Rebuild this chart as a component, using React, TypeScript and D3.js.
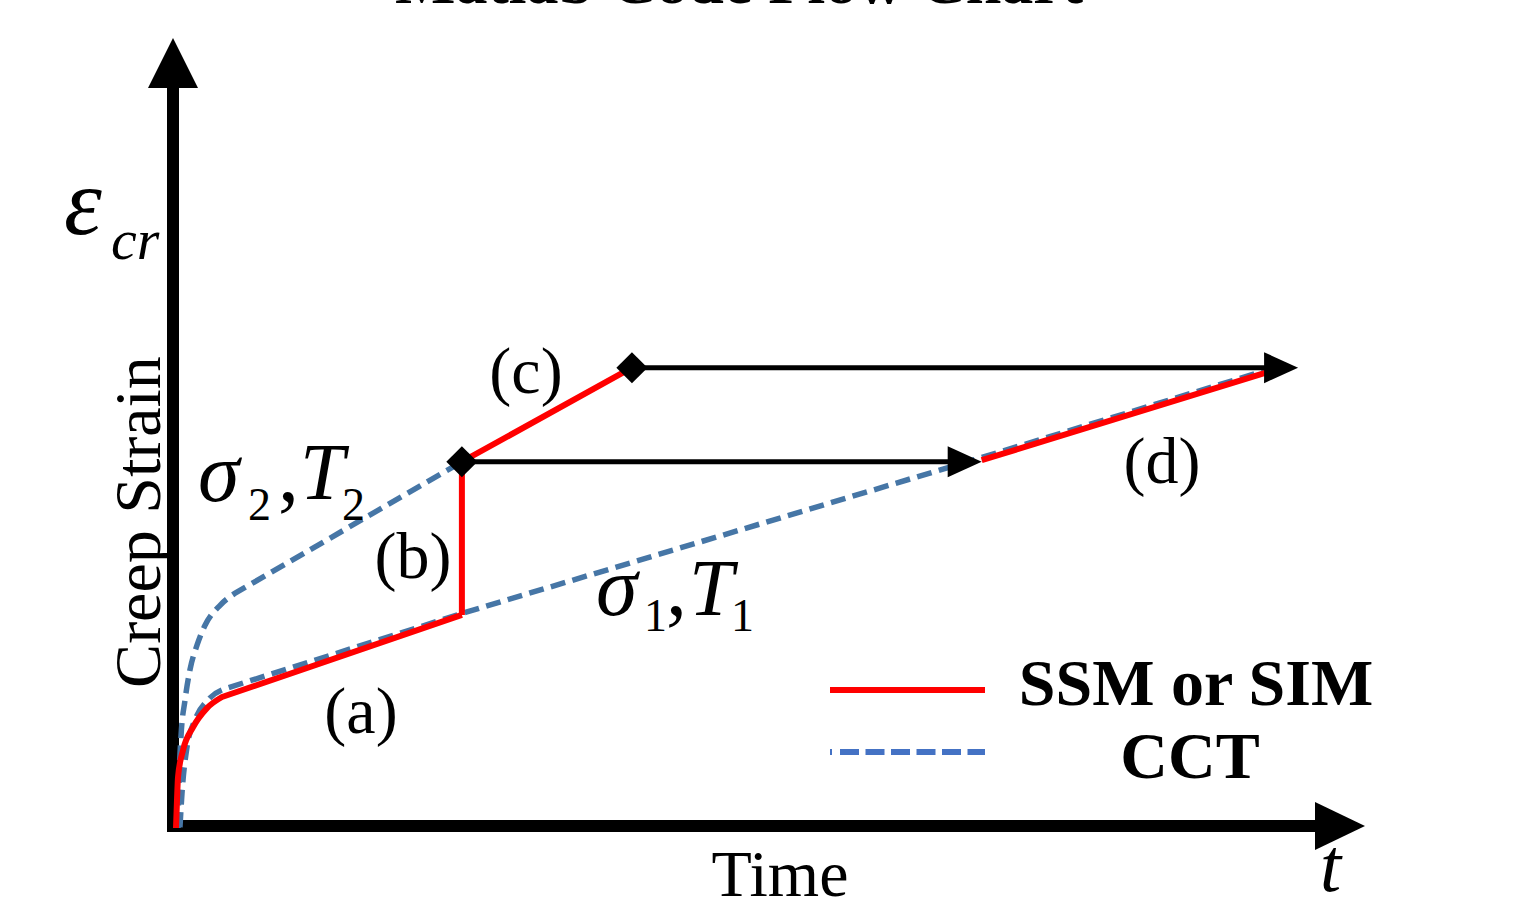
import React from "react";
import * as d3 from "d3";

// ---- data (abstract units: time 0..100, creep strain 0..100) ----
// primary creep part (curved) and steady part (straight), split at the knee
const ssmPrimaryT = [0, 0.09, 0.18, 0.62, 1.5, 2.74, 4.07];
const ssmPrimaryE = [0, 3.8, 6.9, 10.5, 13.6, 16.2, 17.7];
const ssmSteadyT = [4.07, 25.3];
const ssmSteadyE = [17.7, 28.8];
const ssmSwitchT = [25.3, 25.3, 40.35];
const ssmSwitchE = [28.8, 49.5, 62.2];
const ssmFinalT = [71.3, 96.6];
const ssmFinalE = [49.7, 61.6];
const cct1T = [0.35, 0.53, 0.97, 1.68, 2.83, 4.5];
const cct1E = [0.1, 4.7, 10.9, 14.6, 17.3, 18.9];
const cct1SteadyT = [4.5, 25.75, 71.15, 96.6];
const cct1SteadyE = [18.9, 29.2, 50, 61.9];
const cct2T = [0.18, 0.27, 0.44, 0.8, 1.24, 1.86, 2.57, 3.9, 5.2];
const cct2E = [0, 6.5, 12.3, 17.3, 21.4, 24.7, 27.4, 30.1, 31.7];
const cct2SteadyT = [5.2, 25.3];
const cct2SteadyE = [31.7, 49.5];
const switchT = [25.3, 40.35];
const switchE = [49.5, 62.2];
const arrowTipT = [71.3, 99.3];
const legendLabels = ["SSM or SIM", "CCT"];
const title = "Matlab Code Flow Chart";

const W = 1538;
const H = 906;
const serif = "'Liberation Serif', 'Times New Roman', serif";

const xScale = d3.scaleLinear().domain([0, 100]).range([176, 1306]);
const yScale = d3.scaleLinear().domain([0, 100]).range([828, 88]);

const zip = (a: number[], b: number[]) => a.map((v, i) => [v, b[i]] as [number, number]);

const smooth = d3
  .line<[number, number]>()
  .x((d) => xScale(d[0]))
  .y((d) => yScale(d[1]))
  .curve(d3.curveMonotoneX);
const straight = d3
  .line<[number, number]>()
  .x((d) => xScale(d[0]))
  .y((d) => yScale(d[1]))
  .curve(d3.curveLinear);

const RED = "#ff0000";
const BLUE = "#4676a6";
const LEG_BLUE = "#4472c4";

export default function App() {
  const ox = xScale(0) - 3;
  const oy = yScale(0) - 2;
  const yTop = 38;
  const xRight = 1365;
  const dash = "15 7.5";

  return (
    <svg
      width={W}
      height={H}
      style={{ position: "absolute", left: 0, top: 0, background: "#fff" }}
      fontFamily={serif}
    >
      <rect width={W} height={H} fill="#fff" />
      <text x={739} y={3} textAnchor="middle" fontSize={64} fontWeight="bold">
        {title}
      </text>

      {/* axes */}
      <line x1={ox} y1={oy + 6} x2={ox} y2={yTop + 48} stroke="#000" strokeWidth={12} />
      <polygon points={`${ox},${yTop} ${ox - 25},${yTop + 50} ${ox + 25},${yTop + 50}`} fill="#000" />
      <line x1={ox - 6} y1={oy} x2={xRight - 48} y2={oy} stroke="#000" strokeWidth={12} />
      <polygon points={`${xRight},${oy} ${xRight - 50},${oy - 24} ${xRight - 50},${oy + 24}`} fill="#000" />

      {/* CCT curves */}
      <path
        d={(smooth(zip(cct1T, cct1E)) || "") + (straight(zip(cct1SteadyT, cct1SteadyE)) || "").replace(/^M/, "L")}
        fill="none" stroke={BLUE} strokeWidth={5.5} strokeDasharray={dash}
      />
      <path
        d={(smooth(zip(cct2T, cct2E)) || "") + (straight(zip(cct2SteadyT, cct2SteadyE)) || "").replace(/^M/, "L")}
        fill="none" stroke={BLUE} strokeWidth={5.5} strokeDasharray={dash}
      />

      {/* SSM path */}
      <path
        d={(smooth(zip(ssmPrimaryT, ssmPrimaryE)) || "") + (straight(zip(ssmSteadyT, ssmSteadyE)) || "").replace(/^M/, "L")}
        fill="none" stroke={RED} strokeWidth={6} strokeLinejoin="round"
      />
      <path d={straight(zip(ssmSwitchT, ssmSwitchE)) || ""} fill="none" stroke={RED} strokeWidth={6} />
      <path d={straight(zip(ssmFinalT, ssmFinalE)) || ""} fill="none" stroke={RED} strokeWidth={6} />

      {/* transfer arrows */}
      {switchT.map((t, i) => {
        const x0 = xScale(t);
        const y0 = yScale(switchE[i]);
        const xt = xScale(arrowTipT[i]);
        return (
          <g key={i}>
            <line x1={x0} y1={y0} x2={xt - 30} y2={y0} stroke="#000" strokeWidth={5} />
            <polygon points={`${xt},${y0} ${xt - 34},${y0 - 15.5} ${xt - 34},${y0 + 15.5}`} fill="#000" />
            <rect x={x0 - 11} y={y0 - 11} width={22} height={22} fill="#000" transform={`rotate(45 ${x0} ${y0})`} />
          </g>
        );
      })}

      {/* labels */}
      <text x={361} y={733} textAnchor="middle" fontSize={66}>(a)</text>
      <text x={413} y={578} textAnchor="middle" fontSize={66}>(b)</text>
      <text x={526} y={393} textAnchor="middle" fontSize={66}>(c)</text>
      <text x={1162} y={483} textAnchor="middle" fontSize={66}>(d)</text>

      {/* sigma2, T2 */}
      <text x={198} y={501} fontSize={84} fontStyle="italic">σ</text>
      <text x={248} y={520} fontSize={46}>2</text>
      <text x={278} y={501} fontSize={84}>,</text>
      <text x={300} y={499} fontSize={80} fontStyle="italic">T</text>
      <text x={342} y={520} fontSize={46}>2</text>

      {/* sigma1, T1 */}
      <text x={596} y={615} fontSize={84} fontStyle="italic">σ</text>
      <text x={644} y={631} fontSize={46}>1</text>
      <text x={666} y={615} fontSize={84}>,</text>
      <text x={689} y={615} fontSize={80} fontStyle="italic">T</text>
      <text x={731} y={631} fontSize={46}>1</text>

      {/* epsilon_cr */}
      <text x={64} y={234} fontSize={96} fontStyle="italic">ε</text>
      <text x={111} y={259} fontSize={58} fontStyle="italic">cr</text>

      <text transform="translate(160,522) rotate(-90)" textAnchor="middle" fontSize={66}>Creep Strain</text>
      <text x={780} y={896} textAnchor="middle" fontSize={66}>Time</text>
      <text x={1320} y={891} fontSize={76} fontStyle="italic">t</text>

      {/* legend */}
      <line x1={830} y1={690} x2={985} y2={690} stroke={RED} strokeWidth={6} />
      <line x1={830} y1={752} x2={832} y2={752} stroke={LEG_BLUE} strokeWidth={6} />
      <line x1={840} y1={752} x2={985} y2={752} stroke={LEG_BLUE} strokeWidth={6} strokeDasharray="19 6.5" />
      <text x={1196} y={705} textAnchor="middle" fontSize={66} fontWeight="bold">{legendLabels[0]}</text>
      <text x={1190} y={778} textAnchor="middle" fontSize={66} fontWeight="bold">{legendLabels[1]}</text>
    </svg>
  );
}
